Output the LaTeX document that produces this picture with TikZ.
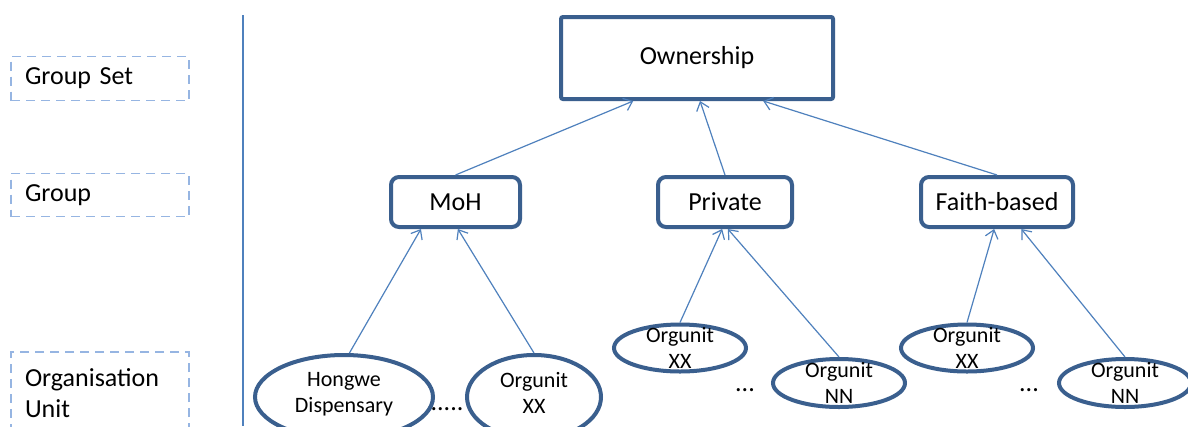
\documentclass[tikz,border=0pt]{standalone}
\usepackage{fontspec}
\setmainfont{Carlito}
\usetikzlibrary{arrows.meta,shapes.geometric}
\definecolor{boxblue}{RGB}{58,95,142}
\definecolor{linkblue}{RGB}{79,129,189}
\definecolor{levelblue}{RGB}{150,181,226}

\tikzset{
	levelbox/.style={draw=levelblue, line width=1.5pt, dash pattern=on 9pt off 6pt,
		minimum width=178pt, text width=150pt, inner xsep=14pt, align=left,
		font=\fontsize{26}{31}\selectfont},
	groupbox/.style={draw=boxblue, line width=4pt, rounded corners=8pt, inner sep=0pt,
		minimum height=50pt, font=\fontsize{26}{31}\selectfont},
	unit/.style={draw=boxblue, line width=4pt, ellipse, inner sep=0pt},
	unittext/.style={align=center, font=\fontsize{22}{26}\selectfont},
	link/.style={draw=linkblue, line width=1.2pt, -{Straight Barb[length=8pt,width=13pt]}},
	gap/.style={font=\fontsize{26}{31}\selectfont, inner sep=0pt}
}

\begin{document}
\begin{tikzpicture}[x=1pt,y=-1pt]
		\clip (0,0) rectangle (1188,426);
		\fill[white] (0,0) rectangle (1188,426);
		\node[levelbox, minimum height=44pt] (setlevel) at (100,78.5) {Group Set};
		\node[levelbox, minimum height=43pt] (grouplevel) at (100,195) {Group};
		\node[levelbox, minimum height=82pt] (unitlevel) at (100,393) {Organisation\\Unit};
		\draw[linkblue, line width=2pt] (243,15)--(243,426);
		\node[draw=boxblue, line width=4pt, rounded corners=2pt, minimum width=272pt, minimum height=82pt,
			font=\fontsize{26}{31}\selectfont] (ownership) at (697,58) {Ownership};
		\node[groupbox, minimum width=129pt] (moh) at (455.5,202) {MoH};
		\node[groupbox, minimum width=134pt] (private) at (725,202) {Private};
		\node[groupbox, minimum width=152pt] (faith) at (997,202) {Faith-based};
		\node[unit, minimum width=178pt, minimum height=84pt,
			label={[unittext, yshift=3pt]center:Hongwe\\Dispensary}] (hongwe) at (344,397) {};
		\node[unit, minimum width=134pt, minimum height=84pt,
			label={[unittext, yshift=4pt]center:Orgunit\\XX}] (mohxx) at (534,397) {};
		\node[unit, minimum width=132pt, minimum height=47pt,
			label={[unittext]center:Orgunit\\XX}] (pvtxx) at (680,348) {};
		\node[unit, minimum width=132pt, minimum height=48pt,
			label={[unittext]center:Orgunit\\NN}] (pvtnn) at (839,383) {};
		\node[unit, minimum width=132pt, minimum height=47pt,
			label={[unittext]center:Orgunit\\XX}] (fbxx) at (967,348) {};
		\node[unit, minimum width=132pt, minimum height=48pt,
			label={[unittext]center:Orgunit\\NN}] (fbnn) at (1125,383) {};
		\node[gap] (mohgap) at (447,409) {.....};
		\node[gap] (pvtgap) at (745,390) {...};
		\node[gap] (fbgap) at (1029,390) {...};
		\draw[link] (moh.north)--(ownership.-146.5);
		\draw[link] (private.north)--(ownership.-86);
		\draw[link] (faith.north)--(ownership.-33);
		\draw[link] (hongwe.83)--(moh.-142);
		\draw[link] (mohxx.north)--(moh.-85);
		\draw[link] (pvtxx.north)--(private.-96);
		\draw[link] (pvtnn.north)--(private.-84);
		\draw[link] (fbxx.north)--(faith.-96);
		\draw[link] (fbnn.north)--(faith.-48);
	\end{tikzpicture}
\end{document}
